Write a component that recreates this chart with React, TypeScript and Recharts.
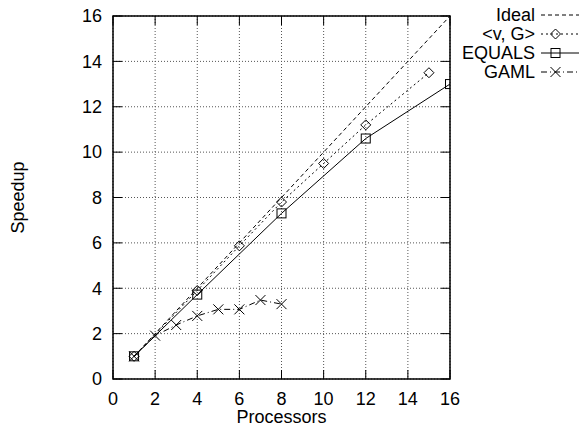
import React from 'react';
import { LineChart, Line, XAxis, YAxis, CartesianGrid, ReferenceArea } from 'recharts';

// values
const idealProcs = [1, 16];
const idealSpeedup = [1, 16];
const vgProcs = [1, 4, 6, 8, 10, 12, 15];
const vgSpeedup = [1, 3.9, 5.87, 7.8, 9.5, 11.2, 13.5];
const equalsProcs = [1, 4, 8, 12, 16];
const equalsSpeedup = [1, 3.72, 7.3, 10.6, 13.0];
const gamlProcs = [1, 2, 3, 4, 5, 6, 7, 8];
const gamlSpeedup = [1, 1.91, 2.38, 2.78, 3.07, 3.07, 3.48, 3.3];
const axisTicks = [0, 2, 4, 6, 8, 10, 12, 14, 16];
const seriesNames = ['Ideal', '<v, G>', 'EQUALS', 'GAML'];

const W = 579;
const H = 427;
const PLOT_TOP = 16;
const PLOT_RIGHT = 450;
const TICK = 9;
const FONT = '"Liberation Sans", Arial, Helvetica, sans-serif';

const toRows = (xs: number[], ys: number[]) => xs.map((x, i) => ({ x, y: ys[i] }));

const idealData = toRows(idealProcs, idealSpeedup);
const vgData = toRows(vgProcs, vgSpeedup);
const equalsData = toRows(equalsProcs, equalsSpeedup);
const gamlData = toRows(gamlProcs, gamlSpeedup);

const DASH = {
    ideal: '4 3',
    vg: '2 3',
    equals: undefined as string | undefined,
    gaml: '6 3 1 3',
};

// point markers
const diamond = (cx: number, cy: number, key?: any) => (
    <path key={key} d={`M${cx - 5},${cy} L${cx},${cy - 5} L${cx + 5},${cy} L${cx},${cy + 5} Z`} fill="none" stroke="#000" strokeWidth={1} />
);
const square = (cx: number, cy: number, key?: any) => (
    <rect key={key} x={cx - 4.5} y={cy - 4.5} width={9} height={9} fill="none" stroke="#000" strokeWidth={1} />
);
const cross = (cx: number, cy: number, key?: any) => (
    <path key={key} d={`M${cx - 5},${cy - 5} L${cx + 5},${cy + 5} M${cx - 5},${cy + 5} L${cx + 5},${cy - 5}`} stroke="#000" strokeWidth={1} />
);

const dotWith = (fn: (cx: number, cy: number, key?: any) => React.ReactElement) => (props: any) => {
    const { cx, cy, index } = props;
    if (cx == null || cy == null) return <g key={index} />;
    return fn(cx, cy, index);
};

const XTick = (props: any) => {
    const { x, y, payload } = props;
    return (
        <g>
            <line x1={x} y1={y} x2={x} y2={y - TICK} stroke="#000" />
            <line x1={x} y1={PLOT_TOP} x2={x} y2={PLOT_TOP + TICK} stroke="#000" />
            <text x={x} y={y + 25.5} textAnchor="middle" fontSize={18} fontFamily={FONT} fill="#000">
                {payload.value}
            </text>
        </g>
    );
};

const YTick = (props: any) => {
    const { x, y, payload } = props;
    return (
        <g>
            <line x1={x} y1={y} x2={x + TICK} y2={y} stroke="#000" />
            <line x1={PLOT_RIGHT} y1={y} x2={PLOT_RIGHT - TICK} y2={y} stroke="#000" />
            <text x={x - 11} y={y + 6.3} textAnchor="end" fontSize={18} fontFamily={FONT} fill="#000">
                {payload.value}
            </text>
        </g>
    );
};

const YLabel = (props: any) => {
    const vb = props.viewBox || {};
    const cy = (vb.y ?? PLOT_TOP) + (vb.height ?? 363) / 2;
    return (
        <text x={23.5} y={cy} transform={`rotate(-90, 23.5, ${cy})`} textAnchor="middle" fontSize={18} fontFamily={FONT} fill="#000">
            Speedup
        </text>
    );
};

const legendMarks = [null, diamond, square, cross];
const legendDash = [DASH.ideal, DASH.vg, DASH.equals, DASH.gaml];

const Key = () => (
    <svg width={W} height={90} style={{ position: 'absolute', left: 0, top: 0, pointerEvents: 'none' }}>
        {seriesNames.map((name, i) => {
            const cy = 15 + i * 19;
            const mark = legendMarks[i];
            return (
                <g key={name}>
                    <text x={535} y={cy + 6.3} textAnchor="end" fontSize={18} fontFamily={FONT} fill="#000">
                        {name}
                    </text>
                    <line x1={541} y1={cy} x2={590} y2={cy} stroke="#000" strokeWidth={1} strokeDasharray={legendDash[i]} />
                    {mark ? mark(555.5, cy) : null}
                </g>
            );
        })}
    </svg>
);

export default function App() {
    return (
        <div style={{ position: 'absolute', left: 0, top: 0, width: W, height: H, background: '#fff', overflow: 'hidden' }}>
            <LineChart width={W} height={H} margin={{ top: PLOT_TOP, right: W - PLOT_RIGHT, bottom: 0, left: 0 }} style={{ fontFamily: FONT }}>
                <CartesianGrid stroke="#555" strokeDasharray="1 2" strokeWidth={1} />
                <XAxis
                    type="number"
                    dataKey="x"
                    domain={[0, 16]}
                    ticks={axisTicks}
                    allowDataOverflow
                    height={48}
                    axisLine={false}
                    tickLine={false}
                    tickSize={0}
                    tickMargin={0}
                    tick={<XTick />}
                    interval={0}
                    label={{ value: 'Processors', position: 'insideBottom', offset: 4, fontSize: 18, fill: '#000', fontFamily: FONT }}
                />
                <YAxis
                    type="number"
                    dataKey="y"
                    domain={[0, 16]}
                    ticks={axisTicks}
                    allowDataOverflow
                    width={113}
                    axisLine={false}
                    tickLine={false}
                    tickSize={0}
                    tickMargin={0}
                    tick={<YTick />}
                    interval={0}
                    label={{ value: 'Speedup', content: <YLabel /> }}
                />
                <ReferenceArea x1={0} x2={16} y1={0} y2={16} fill="none" fillOpacity={0} stroke="#000" strokeWidth={1.5} ifOverflow="visible" />
                <Line data={idealData} dataKey="y" name={seriesNames[0]} stroke="#000" strokeWidth={1} strokeDasharray={DASH.ideal} dot={false} activeDot={false} isAnimationActive={false} />
                <Line data={vgData} dataKey="y" name={seriesNames[1]} stroke="#000" strokeWidth={1} strokeDasharray={DASH.vg} dot={dotWith(diamond)} activeDot={false} isAnimationActive={false} />
                <Line data={equalsData} dataKey="y" name={seriesNames[2]} stroke="#000" strokeWidth={1} dot={dotWith(square)} activeDot={false} isAnimationActive={false} />
                <Line data={gamlData} dataKey="y" name={seriesNames[3]} stroke="#000" strokeWidth={1} strokeDasharray={DASH.gaml} dot={dotWith(cross)} activeDot={false} isAnimationActive={false} />
            </LineChart>
            <Key />
        </div>
    );
}
